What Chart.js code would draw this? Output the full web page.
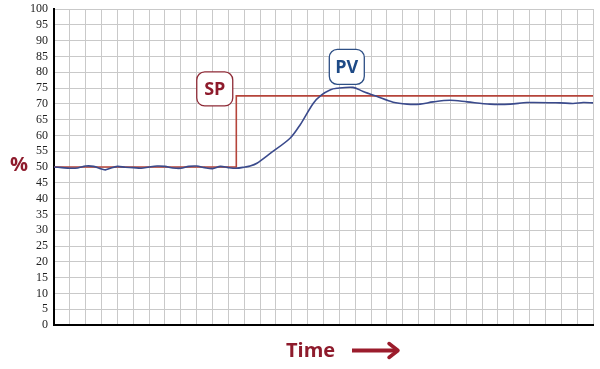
<!DOCTYPE html>
<html>
<head>
<meta charset="utf-8">
<script src="https://cdn.jsdelivr.net/npm/chart.js@4"></script>
<style>
  html, body { margin: 0; padding: 0; background: #fff; }
</style>
</head>
<body>
<canvas id="myChart" width="600" height="369"></canvas>
<script>
// time in grid columns, values in %
const pvTime = [0, 0.5, 1, 1.5, 2, 2.5, 3, 3.25, 3.5, 4, 4.5, 5, 5.5, 6, 6.5, 7, 7.5, 8, 8.5, 9, 9.5, 10, 10.5, 11, 11.5, 12.05,
  12.37, 12.8, 13.64, 14.89, 15.52, 16.36, 16.88, 17.41, 17.85, 18.86, 19.5, 20.38, 21.39, 22.27, 23.09, 23.91, 24.98,
  26.06, 27.5, 28.77, 29.84, 31.92, 32.74, 33.38, 34];
const pvValues = [50, 49.8, 49.6, 49.7, 50.3, 50.2, 49.4, 49.1, 49.5, 50.2, 49.9, 49.8, 49.6, 50, 50.3, 50.2, 49.7, 49.6, 50.2, 50.3, 49.8, 49.5, 50.2, 49.8, 49.6, 50,
  50.3, 51.2, 54.3, 59.1, 63.3, 70.2, 72.8, 74.4, 74.9, 75.2, 73.9, 72.3, 70.5, 69.9, 69.9, 70.6, 71.1,
  70.6, 69.9, 69.9, 70.4, 70.3, 70.1, 70.4, 70.3];
const spTime = [0, 11.5, 11.5, 34];
const spValues = [50, 50, 72.5, 72.5];
const yTicks = [0, 5, 10, 15, 20, 25, 30, 35, 40, 45, 50, 55, 60, 65, 70, 75, 80, 85, 90, 95, 100];

const maroon = "#8e1b2c";
const ctx = document.getElementById("myChart");

function roundBox(c, x, y, w, h, r, stroke, text, color) {
  c.save();
  c.beginPath();
  c.moveTo(x + r, y);
  c.arcTo(x + w, y, x + w, y + h, r);
  c.arcTo(x + w, y + h, x, y + h, r);
  c.arcTo(x, y + h, x, y, r);
  c.arcTo(x, y, x + w, y, r);
  c.closePath();
  c.fillStyle = "#fff";
  c.fill();
  c.lineWidth = 1.3;
  c.strokeStyle = stroke;
  c.stroke();
  c.fillStyle = color;
  c.font = "bold 18px 'Open Sans', sans-serif";
  c.textAlign = "center";
  c.textBaseline = "middle";
  c.fillText(text, x + w / 2, y + h / 2 + 1);
  c.restore();
}

const extras = {
  id: "extras",
  afterDraw(chart) {
    const c = chart.ctx;
    const xs = chart.scales.x, ys = chart.scales.y;
    // SP / PV tags
    const spx = xs.getPixelForValue(10.14), spy = ys.getPixelForValue(74.7);
    roundBox(c, spx - 18, spy - 17, 36, 34, 8, "#8e2a36", "SP", maroon);
    const pvx = xs.getPixelForValue(18.47), pvy = ys.getPixelForValue(81.7);
    roundBox(c, pvx - 17.5, pvy - 17.5, 35, 35, 8, "#2d4f85", "PV", "#1e4a86");
    c.save();
    c.fillStyle = maroon;
    c.font = "bold 20px 'Open Sans', sans-serif";
    c.textAlign = "center";
    c.textBaseline = "middle";
    c.fillText("%", 19, ys.getPixelForValue(50.5));
    c.textAlign = "left";
    c.fillText("Time", 286, 351);
    // arrow
    c.strokeStyle = "#9b1c2c";
    c.lineWidth = 4;
    c.beginPath();
    c.moveTo(352, 350.5);
    c.lineTo(397, 350.5);
    c.stroke();
    c.lineWidth = 3.5;
    c.lineCap = "round";
    c.lineJoin = "round";
    c.beginPath();
    c.moveTo(389, 343.5);
    c.lineTo(398, 350.5);
    c.lineTo(389, 357.5);
    c.stroke();
    c.restore();
  },
};

new Chart(ctx, {
  type: "line",
  data: {
    datasets: [
      {
        label: "PV",
        data: pvTime.map((t, i) => ({ x: t, y: pvValues[i] })),
        borderColor: "#3a4a8c",
        borderWidth: 1.6,
        tension: 0.3,
        pointRadius: 0,
        order: 1,
      },
      {
        label: "SP",
        data: spTime.map((t, i) => ({ x: t, y: spValues[i] })),
        borderColor: "#b5443a",
        borderWidth: 1.6,
        tension: 0,
        pointRadius: 0,
        order: 2,
      },
    ],
  },
  options: {
    responsive: false,
    animation: false,
    layout: { padding: { left: 0, top: 9, right: 7, bottom: 44 } },
    plugins: {
      legend: { display: false },
      tooltip: { enabled: false },
    },
    scales: {
      x: {
        type: "linear",
        min: 0,
        max: 34,
        ticks: { display: false, stepSize: 1 },
        grid: { color: "#c9c9c9", lineWidth: 1, drawTicks: false },
        border: { color: "#000", width: 2 },
      },
      y: {
        min: 0,
        max: 100,
        afterBuildTicks: (s) => { s.ticks = yTicks.map((v) => ({ value: v })); },
        afterFit: (s) => { s.width = 54; s.paddingTop = 0; s.paddingBottom = 0; },
        ticks: {
          color: "#222",
          padding: 6,
          autoSkip: false,
          font: { family: "'Liberation Serif', serif", size: 12 },
        },
        grid: { color: "#c9c9c9", lineWidth: 1, drawTicks: false },
        border: { color: "#000", width: 2 },
      },
    },
  },
  plugins: [extras],
});
</script>
</body>
</html>
